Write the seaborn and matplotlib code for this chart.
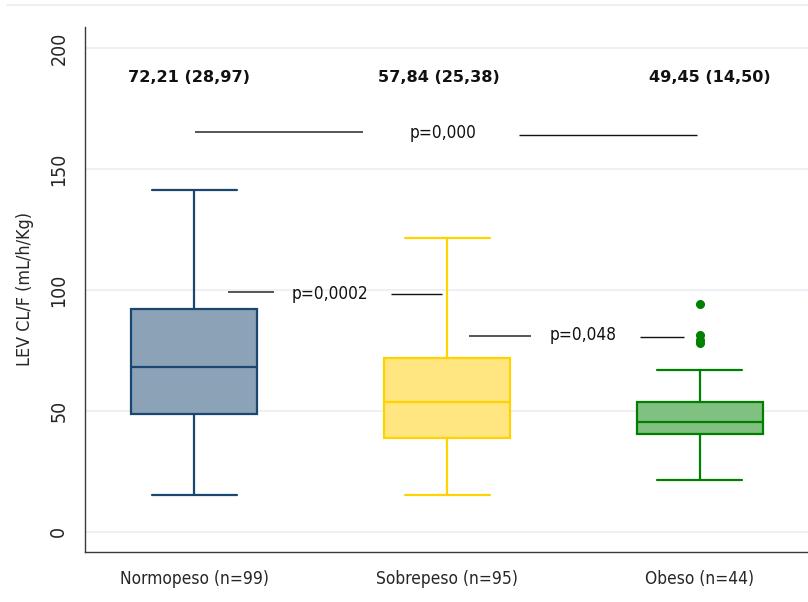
import numpy as np
import pandas as pd
import matplotlib
matplotlib.use("Agg")
import matplotlib.pyplot as plt
from matplotlib.lines import Line2D
from matplotlib import font_manager
import seaborn as sns

# ---- data -------------------------------------------------------------
groups = ["Normopeso (n=99)", "Sobrepeso (n=95)", "Obeso (n=44)"]

# five-number summaries (lower whisker, Q1, median, Q3, upper whisker)
low_whisker = [15.4, 15.2, 21.5]
q1_values = [48.9, 39.0, 40.6]
medians = [68.1, 53.9, 45.6]
q3_values = [92.1, 71.9, 53.7]
high_whisker = [141.2, 121.3, 66.9]
outliers = [[], [], [78.0, 79.4, 81.4, 94.1]]

# mean (SD) labels shown above each box
summary_labels = ["72,21 (28,97)", "57,84 (25,38)", "49,45 (14,50)"]

# pairwise comparisons: text, (x, y) of text, left segment, right segment
p_texts = ["p=0,000", "p=0,0002", "p=0,048"]
p_text_pos = [(0.983, 164.9), (0.536, 98.3), (1.540, 81.2)]
p_left_seg = [(0.004, 0.668, 165.3), (0.134, 0.317, 99.3), (1.087, 1.332, 81.0)]
p_right_seg = [(1.285, 1.988, 164.0), (0.779, 0.982, 98.2), (1.763, 1.937, 80.7)]

edge_colors = ["#1a476f", "#ffd200", "#008000"]
fill_colors = ["#8ca3b7", "#ffe680", "#80c080"]


def sample_from_summary(lo, q1, med, q3, hi, extra):
    """Build a sample whose quartiles/whiskers reproduce the given summary."""
    k = len(extra) + 1
    vals = [lo] + [q1] * k + [med] * k + [q3] * k + [hi] + list(extra)
    return vals


frames = []
for i, g in enumerate(groups):
    vals = sample_from_summary(low_whisker[i], q1_values[i], medians[i],
                               q3_values[i], high_whisker[i], outliers[i])
    frames.append(pd.DataFrame({"grupo": g, "cl": vals}))
df = pd.concat(frames, ignore_index=True)

# ---- fonts ------------------------------------------------------------
sns.set_style("white")
plt.rcParams["font.family"] = ["Liberation Sans", "DejaVu Sans"]
cond = font_manager.FontProperties(family="DejaVu Sans", stretch="condensed")

fig = plt.figure(figsize=(8.08, 6.02), dpi=100)
ax = fig.add_axes([85 / 808, 50 / 602, 723 / 808, 525 / 602])

for i, g in enumerate(groups):
    sns.boxplot(
        data=df[df["grupo"] == g], x="grupo", y="cl", order=groups,
        color=fill_colors[i], linecolor=edge_colors[i], saturation=1,
        width=0.5, linewidth=1.6, whis=1.6,
        flierprops=dict(marker="o", markerfacecolor=edge_colors[i],
                        markeredgecolor=edge_colors[i], markersize=5.5),
        ax=ax,
    )

# widen whisker caps
for ln in ax.lines:
    x = np.asarray(ln.get_xdata(), dtype=float)
    y = np.asarray(ln.get_ydata(), dtype=float)
    if len(x) == 2 and y[0] == y[1] and x[0] != x[1] and abs(abs(x[1] - x[0]) - 0.5) > 1e-3:
        c = x.mean()
        ln.set_xdata([c - 0.168, c + 0.168])

ax.set_xlim(-0.431, 2.427)
ax.set_ylim(-8.3, 208.7)
ax.set_yticks([0, 50, 100, 150, 200])
ax.yaxis.grid(True, color="#e8eef2", linewidth=1.1)
ax.xaxis.grid(False)
ax.set_axisbelow(True)

for side in ["top", "right"]:
    ax.spines[side].set_visible(False)
for side in ["left", "bottom"]:
    ax.spines[side].set_color("#3a3a3a")
    ax.spines[side].set_linewidth(1.0)

ax.tick_params(axis="y", which="major", length=5, width=0.9, color="#3a3a3a",
               pad=7, labelrotation=90)
for lab in ax.get_yticklabels():
    lab.set_va("center")
    lab.set_fontproperties(cond)
    lab.set_fontsize(14)
ax.tick_params(axis="x", length=0, pad=13)
for lab in ax.get_xticklabels():
    lab.set_fontproperties(cond)
    lab.set_fontsize(12.4)

ax.set_xlabel("")
ax.set_ylabel("LEV CL/F (mL/h/Kg)", fontproperties=cond, fontsize=12.9)
ax.yaxis.set_label_coords(-0.07, 0.5)

# mean (SD) labels
for i, txt in enumerate(summary_labels):
    xpos = [-0.02, 0.968, 2.04][i]
    ax.text(xpos, 188.0, txt, ha="center", va="center", fontsize=11.6,
            fontweight="bold", family=["DejaVu Sans"], color="#111111")

# comparison annotations
for txt, (tx, ty), (l0, l1, ly), (r0, r1, ry) in zip(p_texts, p_text_pos,
                                                      p_left_seg, p_right_seg):
    ax.plot([l0, l1], [ly, ly], color="#555555", linewidth=1.4,
            solid_capstyle="butt")
    ax.plot([r0, r1], [ry, ry], color="#111111", linewidth=1.0,
            solid_capstyle="butt")
    ax.text(tx, ty, txt, ha="center", va="center", fontproperties=cond,
            fontsize=12.4, color="#111111")

# outer graph-region rule
fig.add_artist(Line2D([7 / 808, 1.0], [1 - 5 / 602, 1 - 5 / 602],
                      transform=fig.transFigure, color="#e8eef2",
                      linewidth=1.2))

fig.savefig("out.png", dpi=100, facecolor="white")
